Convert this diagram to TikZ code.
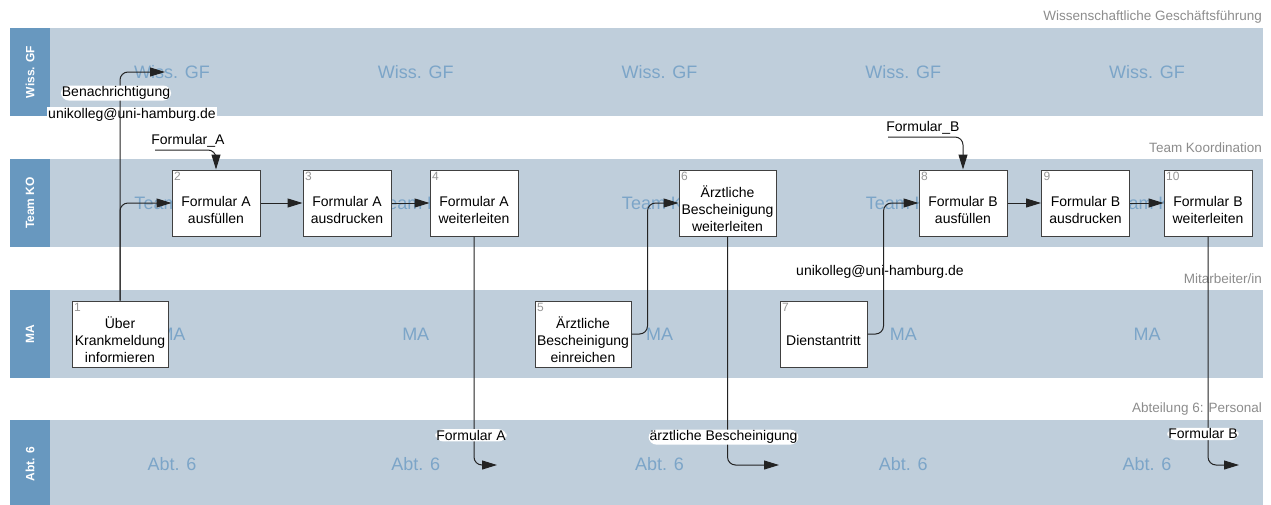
\documentclass[tikz,border=0pt]{standalone}
\usepackage{fontspec}
\setmainfont{Liberation Sans}
\usetikzlibrary{arrows.meta, positioning, calc}
\definecolor{lanebg}{RGB}{191, 206, 219}
\definecolor{lanehead}{RGB}{104, 152, 191}
\definecolor{lanemark}{RGB}{124, 165, 200}
\definecolor{lanetitle}{RGB}{140, 140, 140}
\definecolor{tasknum}{RGB}{150, 150, 150}
\definecolor{flowline}{RGB}{35, 35, 35}
% extra room above the first line, for the task number
\newcommand{\taskgap}{\rule{0pt}{24pt}}

\begin{document}
\begin{tikzpicture}[
  x=1pt, y=-1pt,
  every node/.style={font=\fontsize{14}{17}\selectfont, align=center},
  task/.style={draw=black!75, line width=1pt, fill=white, minimum width=88pt, minimum height=66pt,
    inner xsep=2pt, inner ysep=0pt},
  tasknr/.style={anchor=north west, font=\fontsize{12}{12}\selectfont, text=tasknum, inner sep=2.5pt},
  flowlabel/.style={fill=white, inner sep=1pt},
  lanehd/.style={rotate=90, text=white, font=\bfseries\fontsize{12}{12}\selectfont},
  lanewm/.style={text=lanemark, font=\fontsize{18}{18}\selectfont},
  lanettl/.style={anchor=east, text=lanetitle, font=\fontsize{13.5}{13.5}\selectfont, inner sep=0pt},
  flow/.style={-{Triangle[length=15pt, width=9pt]}, line width=1pt, draw=flowline, rounded corners=8pt}
]
  \useasboundingbox (0,0) rectangle (1271,504);

  % Lanes
  \foreach \top/\name/\ttl [count=\i] in {28/Wiss. GF/Wissenschaftliche Geschäftsführung,
      159/Team KO/Team Koordination, 290/MA/{Mitarbeiter/in}, 420/Abt. 6/Abteilung 6: Personal} {
    \fill[lanebg] (50,\top) rectangle (1263,{\top+88});
    \fill[lanehead] (10,\top) rectangle (50,{\top+88});
    \node[lanehd] (head\i) at (30,{\top+44}) {\name};
    \node[lanettl] (title\i) at (1262,{\top-11}) {\ttl};
    \foreach \k in {0,...,4}
      \node[lanewm] (wm\i\k) at ({172+243.75*\k},{\top+44}) {\name};
  }

  % Mail labels (lines run over them)
  \node[flowlabel] (mail1) at (132,115) {unikolleg@uni-hamburg.de};
  \node[flowlabel] (mail2) at (880,272) {unikolleg@uni-hamburg.de};

  % Tasks
  \node[task, minimum width=96pt, label={[tasknr]north west:1}] (t1) at (120,334) {\taskgap Über\\Krankmeldung\\informieren};
  \node[task, label={[tasknr]north west:2}] (t2) at (216,203) {\taskgap Formular A\\ausfüllen};
  \node[task, label={[tasknr]north west:3}] (t3) at (347,203) {\taskgap Formular A\\ausdrucken};
  \node[task, label={[tasknr]north west:4}] (t4) at (474,203) {\taskgap Formular A\\weiterleiten};
  \node[task, minimum width=96pt, label={[tasknr]north west:5}] (t5) at (583,334) {\taskgap Ärztliche\\Bescheinigung\\einreichen};
  \node[task, minimum width=97pt, label={[tasknr]north west:6}] (t6) at (727.5,203) {\taskgap Ärztliche\\Bescheinigung\\weiterleiten};
  \node[task, minimum width=87pt, label={[tasknr]north west:7}] (t7) at (823.5,334) {\taskgap Dienstantritt};
  \node[task, label={[tasknr]north west:8}] (t8) at (963,203) {\taskgap Formular B\\ausfüllen};
  \node[task, label={[tasknr]north west:9}] (t9) at (1085.5,203) {\taskgap Formular B\\ausdrucken};
  \node[task, label={[tasknr]north west:10}] (t10) at (1208,203) {\taskgap Formular B\\weiterleiten};

  % Free ends
  \coordinate (gf) at (165,72);
  \coordinate (fa) at (155,150);
  \coordinate (fb) at (888,137);
  \coordinate (abt1) at (497,465);
  \coordinate (abt2) at (779,465);
  \coordinate (abt3) at (1239,465);

  % Flow
  \draw[flow] (t1.north) |- node[flowlabel, pos=0.454, xshift=-4pt] (note) {Benachrichtigung} (gf);
  \draw[flow] (t1.north) |- (t2.west);
  \draw[flow] (fa) -| node[above, pos=0.27, inner sep=2pt] (falbl) {Formular\_A} (t2.north);
  \draw[flow] (t2) -- (t3);
  \draw[flow] (t3) -- (t4);
  \draw[flow] (t4.south) |- node[flowlabel, pos=0.435, xshift=-3pt] (abtlbl1) {Formular A} (abt1);
  \draw[flow] (t5.east) -- ++(16,0) |- (t6.west);
  \draw[flow] (t6.south) |- node[flowlabel, pos=0.439, xshift=-4pt] (abtlbl2) {ärztliche Bescheinigung} (abt2);
  \draw[flow] (t7.east) -- ++(16,0) |- (t8.west);
  \draw[flow] (fb) -| node[above, pos=0.233, inner sep=2pt] (fblbl) {Formular\_B} (t8.north);
  \draw[flow] (t8) -- (t9);
  \draw[flow] (t9) -- (t10);
  \draw[flow] (t10.south) |- node[flowlabel, pos=0.432, xshift=-5pt] (abtlbl3) {Formular B} (abt3);

\end{tikzpicture}
\end{document}
